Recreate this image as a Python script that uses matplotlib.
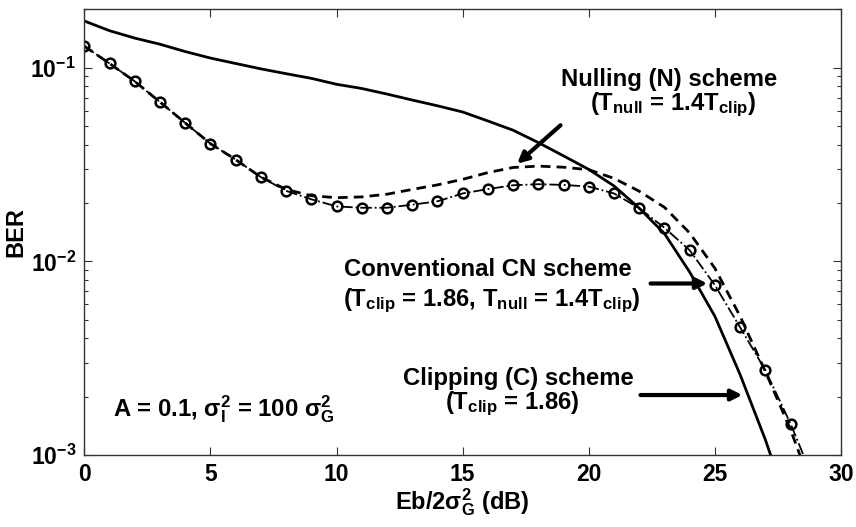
import numpy as np
import matplotlib
matplotlib.use('Agg')
from matplotlib import pyplot as plt
from matplotlib.ticker import FixedLocator, FixedFormatter, LogLocator, NullFormatter

plt.rcParams['font.family'] = ['Liberation Sans', 'DejaVu Sans']
plt.rcParams['font.weight'] = 'bold'
plt.rcParams['mathtext.fontset'] = 'custom'
plt.rcParams['mathtext.rm'] = 'Liberation Sans:bold'
plt.rcParams['mathtext.it'] = 'Liberation Sans:bold'
plt.rcParams['mathtext.bf'] = 'Liberation Sans:bold'
plt.rcParams['mathtext.default'] = 'bf'

# Eb/2sigma_G^2 in dB
snr_db = list(range(0, 30))

# clipping (C) scheme, solid
ber_clip = [0.174, 0.155, 0.142, 0.132, 0.121, 0.112, 0.105, 0.0985, 0.093, 0.088,
            0.082, 0.078, 0.073, 0.068, 0.0635, 0.059, 0.053, 0.0475, 0.041, 0.035,
            0.0298, 0.0245, 0.0188, 0.0139, 0.0088, 0.0052, 0.0026, 0.0012, 0.0005, 0.0002]

# nulling (N) scheme, dashed
ber_null = [0.129, 0.105, 0.0849, 0.0664, 0.0518, 0.0405, 0.0335, 0.0272, 0.0235, 0.0218,
            0.0213, 0.0215, 0.0222, 0.0235, 0.0248, 0.0265, 0.0287, 0.0305, 0.0310, 0.0306,
            0.0297, 0.0268, 0.0230, 0.0190, 0.0140, 0.0092, 0.0052, 0.0027, 0.00135, 0.0006]

# conventional CN scheme, dash-dot with circles
ber_cn = [0.129, 0.105, 0.0849, 0.0664, 0.0518, 0.0405, 0.0335, 0.0272, 0.0231, 0.0209,
          0.0192, 0.0189, 0.0189, 0.0196, 0.0204, 0.0224, 0.0236, 0.0247, 0.0250, 0.0248,
          0.0243, 0.0224, 0.0188, 0.0149, 0.0114, 0.00753, 0.00456, 0.00274, 0.00145, 0.0007]

ytick_vals = [1e-3, 1e-2, 1e-1]
ytick_labels = [r'$10^{-3}$', r'$10^{-2}$', r'$10^{-1}$']
xtick_vals = [0, 5, 10, 15, 20, 25, 30]

fig = plt.figure(figsize=(8.56, 5.27), dpi=100)
ax = fig.add_axes([0.0985, 0.1366, 0.884, 0.8458])

ax.semilogy(snr_db, ber_clip, '-', color='k', lw=2.0)
ax.semilogy(snr_db, ber_null, '--', color='k', lw=2.0, dashes=(3.5, 2.2))
ax.semilogy(snr_db, ber_cn, '-.', color='k', lw=1.3, marker='o', ms=7,
            mfc='none', mec='k', mew=1.8)

ax.set_xlim(0, 30)
ax.set_ylim(1e-3, 0.2)
ax.xaxis.set_major_locator(FixedLocator(xtick_vals))
ax.yaxis.set_major_locator(FixedLocator(ytick_vals))
ax.yaxis.set_major_formatter(FixedFormatter(ytick_labels))
ax.yaxis.set_minor_locator(LogLocator(base=10, subs=np.arange(2, 10)))
ax.yaxis.set_minor_formatter(NullFormatter())
ax.tick_params(which='both', direction='in', top=True, right=True,
               labelsize=16.5, width=0.8, color='#333333')
ax.tick_params(which='major', length=6, pad=6)
ax.tick_params(which='minor', length=3)
for s in ax.spines.values():
    s.set_color('#333333')
    s.set_linewidth(1.0)

ax.set_xlabel(r'Eb/2$\sigma_G^2$ (dB)', fontsize=17, fontweight='bold', labelpad=0)
ax.set_ylabel('BER', fontsize=17, fontweight='bold', labelpad=2)

fs = 17.2
ax.text(23.2, 0.0800, 'Nulling (N) scheme', fontsize=fs, ha='center', va='baseline')
ax.text(23.34, 0.060, r'(T$_{null}$ = 1.4T$_{clip}$)', fontsize=fs, ha='center', va='baseline')
ax.text(16.0, 0.00838, 'Conventional CN scheme', fontsize=fs, ha='center', va='baseline')
ax.text(16.16, 0.00586, r'(T$_{clip}$ = 1.86, T$_{null}$ = 1.4T$_{clip}$)', fontsize=fs,
        ha='center', va='baseline')
ax.text(17.21, 0.0023, 'Clipping (C) scheme', fontsize=fs, ha='center', va='baseline')
ax.text(16.97, 0.00173, r'(T$_{clip}$ = 1.86)', fontsize=fs, ha='center', va='baseline')
ax.text(1.14, 0.00159, r'A = 0.1, $\sigma_I^2$ = 100 $\sigma_G^2$', fontsize=fs,
        ha='left', va='baseline')

arrow = dict(arrowstyle='-|>', lw=3, color='k', mutation_scale=16, shrinkA=0, shrinkB=0)
ax.annotate('', xy=(17.16, 0.0319), xytext=(18.88, 0.0504), arrowprops=arrow)
ax.annotate('', xy=(24.70, 0.00768), xytext=(22.45, 0.00768), arrowprops=arrow)
ax.annotate('', xy=(26.09, 0.00204), xytext=(22.05, 0.00204), arrowprops=arrow)

fig.savefig('out.png', dpi=100)
